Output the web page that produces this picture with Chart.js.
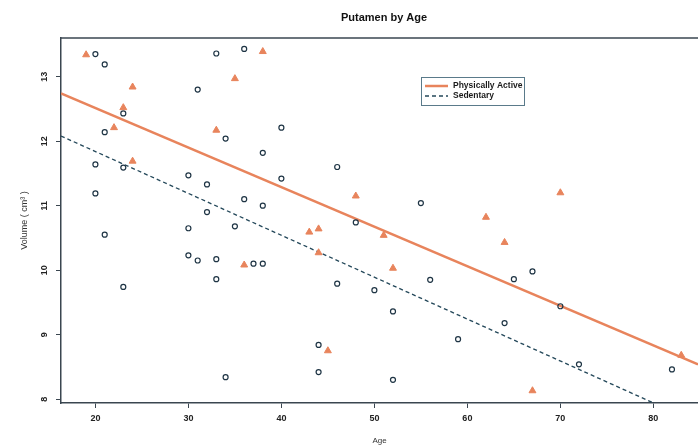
<!DOCTYPE html>
<html>
<head>
<meta charset="utf-8">
<script src="https://cdn.jsdelivr.net/npm/chart.js@4/dist/chart.umd.min.js"></script>
<style>
	html, body { margin: 0; padding: 0; background: #ffffff; }
	#wrap { width: 698px; height: 447px; }
</style>
</head>
<body>
<div id="wrap"><canvas id="chart" width="698" height="447"></canvas></div>
<script>
/*--------------------------------------------------------------------------------------------------------------------*/
/* data                                                                                                               */
/*--------------------------------------------------------------------------------------------------------------------*/

const activeAge = [19, 24, 23, 22, 24, 38, 35, 33, 48, 43, 44, 51, 44, 36, 52, 45, 70, 62, 64, 83, 67];
const activeVol = [13.34, 12.84, 12.52, 12.21, 11.69, 13.39, 12.97, 12.17, 11.15, 10.59, 10.64, 10.54, 10.27, 10.08, 10.03, 8.75, 11.20, 10.82, 10.43, 8.68, 8.13];

const sedentaryAge = [20, 21, 31, 23, 21, 20, 23, 30, 20, 30, 21, 30, 31, 23, 33, 36, 34, 40, 38, 46, 40, 55, 32, 36, 38, 32, 35, 48, 33, 33, 37, 38, 46, 50, 56, 52, 44, 34, 44, 52, 67, 65, 70, 64, 59, 72, 82];
const sedentaryVol = [13.35, 13.19, 12.80, 12.43, 12.14, 11.64, 11.59, 11.47, 11.19, 10.65, 10.55, 10.23, 10.15, 9.74, 13.36, 13.43, 12.04, 12.21, 11.82, 11.60, 11.42, 11.04, 11.33, 11.10, 11.00, 10.90, 10.68, 10.74, 10.17, 9.86, 10.10, 10.10, 9.79, 9.69, 9.85, 9.36, 8.84, 8.34, 8.42, 8.30, 9.98, 9.86, 9.44, 9.18, 8.93, 8.54, 8.46];

/* fitted regression lines, read at both ends of the plot */
const fitAge = [16.3, 84.8];
const activeFit = [12.74, 8.54];
const sedentaryFit = [12.08, 7.63];

const xTicks = [20, 30, 40, 50, 60, 70, 80];
const yTicks = [8, 9, 10, 11, 12, 13];

const chartTitle = 'Putamen by Age';
const legendLabels = ['Physically Active', 'Sedentary'];

/*--------------------------------------------------------------------------------------------------------------------*/

const ORANGE = '#e8845c';
const NAVY = '#1e3444';
const AXIS = '#3a4650';
const FONT = '"Liberation Sans", Arial, sans-serif';

const toPoints = (xs, ys) => xs.map((x, i) => ({x: x, y: ys[i]}));

/*--------------------------------------------------------------------------------------------------------------------*/

/* the plot box runs off the right edge of the picture: only the top side is added here */

const framePlugin = {
	id: 'frame',
	afterDatasetsDraw: function(chart)
	{
		const ctx = chart.ctx;
		const a = chart.chartArea;

		ctx.save();
		ctx.strokeStyle = AXIS;
		ctx.lineWidth = 1.5;
		ctx.beginPath();
		ctx.moveTo(a.left, a.top);
		ctx.lineTo(a.right, a.top);
		ctx.stroke();
		ctx.restore();
	},
};

/*--------------------------------------------------------------------------------------------------------------------*/

/* title centred on the whole (cropped) figure, not on the visible canvas */

const titlePlugin = {
	id: 'figureTitle',
	afterDraw: function(chart)
	{
		const ctx = chart.ctx;

		ctx.save();
		ctx.fillStyle = '#111111';
		ctx.font = 'bold 11px ' + FONT;
		ctx.textAlign = 'center';
		ctx.textBaseline = 'middle';
		ctx.fillText(chartTitle, 384, 18);
		ctx.restore();
	},
};

/*--------------------------------------------------------------------------------------------------------------------*/

const legendPlugin = {
	id: 'boxLegend',
	afterDraw: function(chart)
	{
		const ctx = chart.ctx;
		const x = 421, y = 77, w = 103, h = 28;

		ctx.save();
		ctx.fillStyle = '#ffffff';
		ctx.fillRect(x, y, w, h);
		ctx.strokeStyle = '#5a7a8a';
		ctx.lineWidth = 1;
		ctx.strokeRect(x + 0.5, y + 0.5, w, h);

		const rows = [chart.data.datasets[2], chart.data.datasets[3]];

		rows.forEach((ds, i) => {
			const ry = y + 9 + i * 10;
			ctx.beginPath();
			ctx.strokeStyle = ds.borderColor;
			ctx.lineWidth = ds.borderWidth;
			ctx.setLineDash(ds.borderDash || []);
			ctx.moveTo(x + 4, ry);
			ctx.lineTo(x + 27, ry);
			ctx.stroke();
			ctx.setLineDash([]);

			ctx.fillStyle = '#1a1a1a';
			ctx.font = 'bold 8.5px ' + FONT;
			ctx.textBaseline = 'middle';
			ctx.textAlign = 'left';
			ctx.fillText(legendLabels[i], x + 32, ry);
		});

		ctx.restore();
	},
};

/*--------------------------------------------------------------------------------------------------------------------*/

new Chart(document.getElementById('chart').getContext('2d'), {
	type: 'scatter',
	data: {
		datasets: [
			{
				label: 'Physically Active points',
				data: toPoints(activeAge, activeVol),
				pointStyle: 'triangle',
				pointRadius: 4,
				backgroundColor: ORANGE,
				borderColor: ORANGE,
				borderWidth: 1,
			},
			{
				label: 'Sedentary points',
				data: toPoints(sedentaryAge, sedentaryVol),
				pointStyle: 'circle',
				pointRadius: 2.5,
				backgroundColor: 'rgba(0,0,0,0)',
				borderColor: NAVY,
				borderWidth: 1.2,
			},
			{
				label: legendLabels[0],
				data: toPoints(fitAge, activeFit),
				showLine: true,
				pointRadius: 0,
				borderColor: ORANGE,
				borderWidth: 2.5,
			},
			{
				label: legendLabels[1],
				data: toPoints(fitAge, sedentaryFit),
				showLine: true,
				pointRadius: 0,
				borderColor: '#24485a',
				borderWidth: 1.3,
				borderDash: [4, 3],
			},
		],
	},
	options: {
		responsive: false,
		animation: false,
		layout: {
			autoPadding: false,
			padding: {left: 0, right: 0, top: 38, bottom: 0},
		},
		plugins: {
			legend: {display: false},
			tooltip: {enabled: false},
			title: {display: false},
		},
		scales: {
			x: {
				type: 'linear',
				min: 16.3,
				max: 84.8,
				afterBuildTicks: (scale) => { scale.ticks = xTicks.map((v) => ({value: v})); },
				afterFit: (scale) => { scale.height = 44; },
				border: {display: true, color: AXIS, width: 1.5},
				grid: {display: true, drawOnChartArea: false, drawTicks: true, tickLength: 5, color: AXIS},
				ticks: {
					color: '#222222',
					font: {family: FONT, size: 9, weight: 'bold'},
					padding: 5,
					maxRotation: 0,
				},
				title: {
					display: true,
					text: 'Age',
					color: '#333333',
					font: {family: FONT, size: 8},
					padding: {top: 0, bottom: 1},
				},
			},
			y: {
				type: 'linear',
				min: 7.94,
				max: 13.6,
				afterBuildTicks: (scale) => { scale.ticks = yTicks.map((v) => ({value: v})); },
				afterFit: (scale) => { scale.width = 61; },
				border: {display: true, color: AXIS, width: 1.5},
				grid: {display: true, drawOnChartArea: false, drawTicks: true, tickLength: 5, color: AXIS},
				ticks: {
					color: '#222222',
					font: {family: FONT, size: 9, weight: 'bold'},
					padding: 6,
					minRotation: 90,
					maxRotation: 90,
					crossAlign: 'center',
				},
				title: {
					display: true,
					text: 'Volume ( cm\u00B3 )',
					color: '#333333',
					font: {family: FONT, size: 9},
					padding: {top: 19, bottom: 0},
				},
			},
		},
	},
	plugins: [framePlugin, titlePlugin, legendPlugin],
});

/*--------------------------------------------------------------------------------------------------------------------*/
</script>
</body>
</html>
